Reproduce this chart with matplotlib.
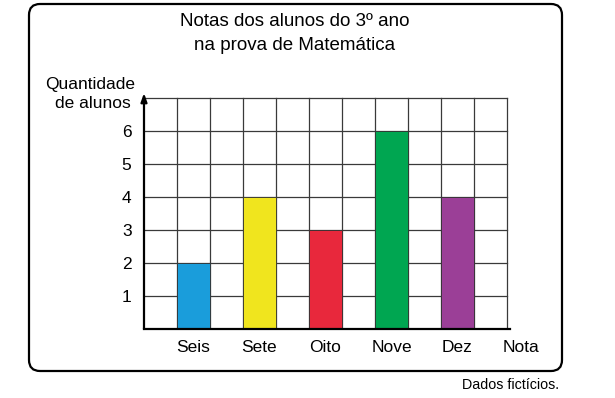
import matplotlib
matplotlib.use("Agg")
import matplotlib.pyplot as plt
from matplotlib.patches import FancyBboxPatch
from matplotlib.transforms import IdentityTransform

plt.rcParams['font.family'] = ['Liberation Sans', 'DejaVu Sans']

categories = ["Seis", "Sete", "Oito", "Nove", "Dez"]
values = [2, 4, 3, 6, 4]
colors = ["#1a9ddb", "#f0e51e", "#e8283c", "#00a651", "#9b3f97"]
yticks = [1, 2, 3, 4, 5, 6]

W, H = 615, 398
fig = plt.figure(figsize=(W / 100, H / 100), dpi=100)

# rounded frame in pixel coordinates
frame = FancyBboxPatch((29, 398 - 371), 533, 367, boxstyle="round,pad=0,rounding_size=11",
                       transform=IdentityTransform(), fill=False, edgecolor="black",
                       linewidth=1.6, figure=fig)
fig.patches.append(frame)

x0, y0, unit = 144, 329, 33.0
xmax, ymax = 11.1, 7.15
ax = fig.add_axes([x0 / W, (H - y0) / H, xmax * unit / W, ymax * unit / H])
ax.set_xlim(0, xmax)
ax.set_ylim(0, ymax)

# grid
for gx in range(1, 12):
    ax.plot([gx, gx], [0, 7], color="#3a3a3a", lw=0.9, zorder=1)
for gy in range(1, 8):
    ax.plot([0, 11], [gy, gy], color="#3a3a3a", lw=0.9, zorder=1)

positions = [1.5 + 2 * i for i in range(len(categories))]
ax.bar(positions, values, width=1.0, color=colors, edgecolor="#333333", linewidth=0.6, zorder=2)

for s in ["top", "right"]:
    ax.spines[s].set_visible(False)
ax.spines["left"].set_visible(False)
ax.spines["bottom"].set_linewidth(1.6)
ax.spines["bottom"].set_zorder(3)
ax.annotate("", xy=(0, ymax), xytext=(0, 0),
            arrowprops=dict(arrowstyle="-|>,head_width=0.18,head_length=0.5", lw=1.6, color="black",
                            shrinkA=0, shrinkB=0), zorder=4)

ax.set_yticks(yticks)
ax.set_yticklabels([str(v) for v in yticks], fontsize=12.5)
ax.set_xticks(positions)
ax.set_xticklabels(categories, fontsize=12.5)
ax.tick_params(length=0, pad=8)
ax.tick_params(axis="y", pad=9)
ax.patch.set_alpha(0)

fig.text(295 / W, 1 - 22 / H, "Notas dos alunos do 3º ano", ha="center", va="center", fontsize=13.5)
fig.text(295 / W, 1 - 46 / H, "na prova de Matemática", ha="center", va="center", fontsize=13.5)
fig.text(90 / W, 1 - 85 / H, "Quantidade", ha="center", va="center", fontsize=12.5)
fig.text(92.5 / W, 1 - 104 / H, "de alunos", ha="center", va="center", fontsize=12.5)
fig.text(521 / W, 1 - 348 / H, "Nota", ha="center", va="center", fontsize=12.5)
fig.text(511 / W, 1 - 385 / H, "Dados fictícios.", ha="center", va="center", fontsize=10.3)

fig.savefig("out.png", dpi=100)
